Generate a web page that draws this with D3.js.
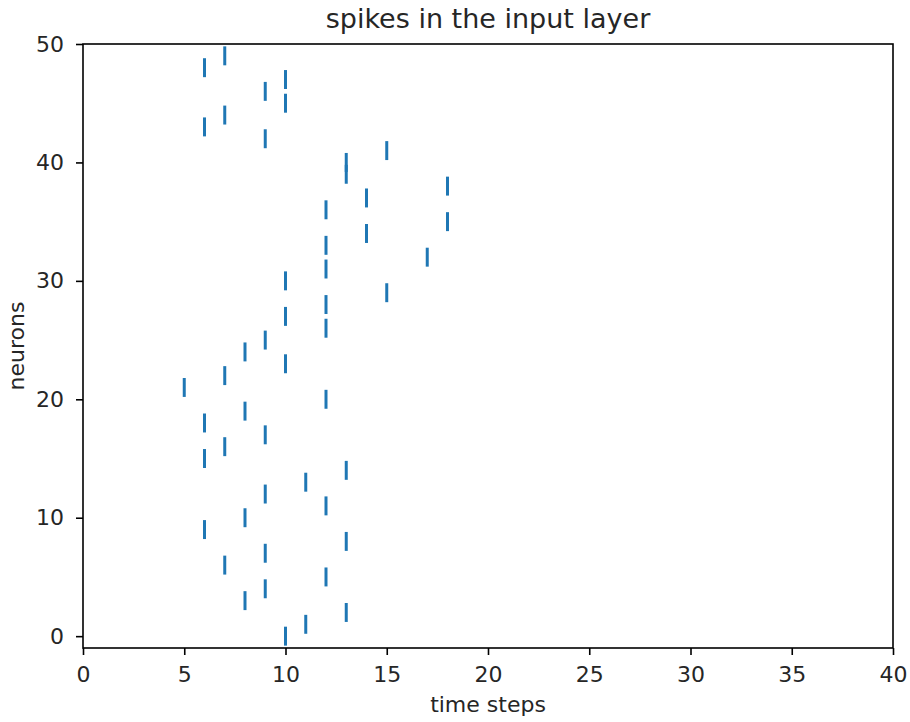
<!DOCTYPE html>
<html>
<head>
<meta charset="utf-8">
<script src="https://cdn.jsdelivr.net/npm/d3@7"></script>
<style>
  body { margin: 0; background: #fff; }
  text { font-family: "DejaVu Sans", sans-serif; fill: #262626; }
</style>
</head>
<body>
<svg id="chart"></svg>
<script>
// one spike per neuron, index = neuron id
const neurons = d3.range(50)
const spikeTimes = [
  10, 11, 13, 8, 9, 12, 7, 9, 13, 6,
  8, 12, 9, 11, 13, 6, 7, 9, 6, 8,
  12, 5, 7, 10, 8, 9, 12, 10, 12, 15,
  10, 12, 17, 12, 14, 18, 12, 14, 18, 13,
  13, 15, 9, 6, 7, 10, 9, 10, 6, 7
]
const xTicks = [0, 5, 10, 15, 20, 25, 30, 35, 40]
const yTicks = [0, 10, 20, 30, 40, 50]

const width = 910
const height = 722
const plotLeft = 83, plotRight = 893, plotTop = 44, plotBottom = 648

const svg = d3.select('#chart').attr('width', width).attr('height', height)

const xScale = d3.scaleLinear().domain([0, 40]).range([plotLeft, plotRight])
const yScale = d3.scaleLinear().domain([-1, 50]).range([plotBottom, plotTop])

svg.append('clipPath').attr('id', 'plot-clip')
  .append('rect')
  .attr('x', plotLeft).attr('y', plotTop)
  .attr('width', plotRight - plotLeft).attr('height', plotBottom - plotTop)

const spikeHalf = 0.8 // half length of a spike, in neuron units

svg.append('g')
  .attr('clip-path', 'url(#plot-clip)')
  .selectAll('line')
  .data(neurons)
  .enter()
  .append('line')
  .attr('x1', d => xScale(spikeTimes[d]))
  .attr('x2', d => xScale(spikeTimes[d]))
  .attr('y1', d => yScale(d - spikeHalf))
  .attr('y2', d => yScale(d + spikeHalf))
  .attr('stroke', '#1f77b4')
  .attr('stroke-width', 3)

const xAxis = d3.axisBottom(xScale).tickValues(xTicks).tickSize(7).tickPadding(11).tickSizeOuter(0)
const gx = svg.append('g')
  .attr('transform', `translate(0,${plotBottom})`)
  .call(xAxis)
gx.select('.domain').remove()
gx.selectAll('line').attr('stroke', '#000').attr('stroke-width', 1.6)
gx.selectAll('text').attr('font-size', 22).attr('fill', '#262626')
  .attr('font-family', '"DejaVu Sans", sans-serif')

const yAxis = d3.axisLeft(yScale).tickValues(yTicks).tickSize(7).tickPadding(12).tickSizeOuter(0)
const gy = svg.append('g')
  .attr('transform', `translate(${plotLeft},0)`)
  .call(yAxis)
gy.select('.domain').remove()
gy.selectAll('line').attr('stroke', '#000').attr('stroke-width', 1.6)
gy.selectAll('text').attr('font-size', 22).attr('fill', '#262626')
  .attr('font-family', '"DejaVu Sans", sans-serif')

// frame
svg.append('rect')
  .attr('x', plotLeft).attr('y', plotTop)
  .attr('width', plotRight - plotLeft).attr('height', plotBottom - plotTop)
  .attr('fill', 'none')
  .attr('stroke', '#000')
  .attr('stroke-width', 1.6)

svg.append('text')
  .attr('x', (plotLeft + plotRight) / 2)
  .attr('y', 28)
  .attr('text-anchor', 'middle')
  .attr('font-size', 27)
  .text('spikes in the input layer')

svg.append('text')
  .attr('x', (plotLeft + plotRight) / 2)
  .attr('y', 712)
  .attr('text-anchor', 'middle')
  .attr('font-size', 22)
  .text('time steps')

svg.append('text')
  .attr('transform', `translate(24,${(plotTop + plotBottom) / 2}) rotate(-90)`)
  .attr('text-anchor', 'middle')
  .attr('font-size', 22)
  .text('neurons')
</script>
</body>
</html>
